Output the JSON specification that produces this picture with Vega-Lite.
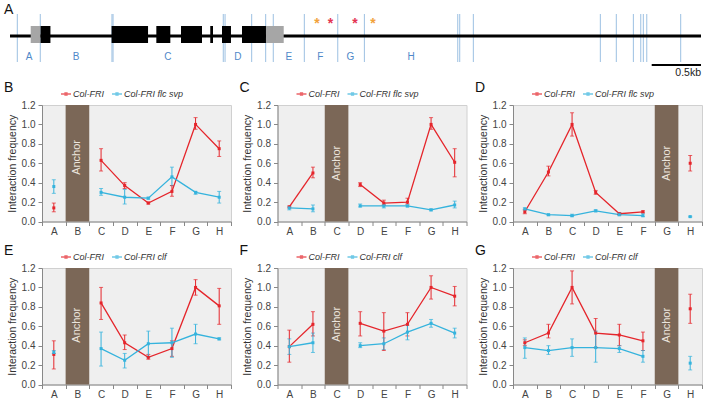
{
"$schema": "https://vega.github.io/schema/vega-lite/v6.json",
"padding": {"left": 3, "top": 0, "right": 0, "bottom": 0},
"config": {
 "font": "Liberation Sans",
 "view": {"fill": "#efefef", "stroke": "#d0d0d0", "strokeWidth": 1},
 "axis": {"gridColor": "#ffffff", "gridWidth": 1, "gridOpacity": 1, "domainColor": "#888888", "tickColor": "#888888", "labelColor": "#444444", "labelFontSize": 10, "titleFontSize": 10.5, "titleFontWeight": "normal", "titleColor": "#333333", "tickSize": 4},
 "axisX": {"tickBand": "extent", "labelAngle": 0, "labelPadding": 1},
 "axisY": {"titlePadding": 4, "labelPadding": 3, "tickCount": 6},
 "legend": {"orient": "none", "legendX": 18, "legendY": -17, "direction": "horizontal", "labelFontStyle": "italic", "labelFontSize": 9, "labelColor": "#333333", "columnPadding": 5, "labelOffset": 1, "symbolSize": 100, "symbolStrokeWidth": 1.3, "symbolType": "M-1,0H1M-0.2,-0.2H0.2V0.2H-0.2Z"},
 "title": {"fontSize": 14, "fontWeight": "normal", "anchor": "start", "frame": "group", "color": "#111111"}
},
"datasets": {
 "pts": [
  {"p":"B","s":"Col-FRI","g":1,"x":"A","v":0.14,"lo":0.10,"hi":0.19},
  {"p":"B","s":"Col-FRI","g":2,"x":"C","v":0.63,"lo":0.52,"hi":0.75},
  {"p":"B","s":"Col-FRI","g":2,"x":"D","v":0.37,"lo":0.34,"hi":0.40},
  {"p":"B","s":"Col-FRI","g":2,"x":"E","v":0.19,"lo":0.18,"hi":0.20},
  {"p":"B","s":"Col-FRI","g":2,"x":"F","v":0.31,"lo":0.26,"hi":0.37},
  {"p":"B","s":"Col-FRI","g":2,"x":"G","v":1.00,"lo":0.95,"hi":1.07},
  {"p":"B","s":"Col-FRI","g":2,"x":"H","v":0.75,"lo":0.67,"hi":0.83},
  {"p":"B","s":"Col-FRI flc svp","g":1,"x":"A","v":0.36,"lo":0.29,"hi":0.43},
  {"p":"B","s":"Col-FRI flc svp","g":2,"x":"C","v":0.30,"lo":0.27,"hi":0.34},
  {"p":"B","s":"Col-FRI flc svp","g":2,"x":"D","v":0.25,"lo":0.18,"hi":0.33},
  {"p":"B","s":"Col-FRI flc svp","g":2,"x":"E","v":0.24,"lo":0.23,"hi":0.25},
  {"p":"B","s":"Col-FRI flc svp","g":2,"x":"F","v":0.46,"lo":0.37,"hi":0.56},
  {"p":"B","s":"Col-FRI flc svp","g":2,"x":"G","v":0.30,"lo":0.28,"hi":0.31},
  {"p":"B","s":"Col-FRI flc svp","g":2,"x":"H","v":0.25,"lo":0.19,"hi":0.31},

  {"p":"C","s":"Col-FRI","g":1,"x":"A","v":0.15,"lo":0.14,"hi":0.16},
  {"p":"C","s":"Col-FRI","g":1,"x":"B","v":0.50,"lo":0.45,"hi":0.56},
  {"p":"C","s":"Col-FRI","g":2,"x":"D","v":0.38,"lo":0.36,"hi":0.40},
  {"p":"C","s":"Col-FRI","g":2,"x":"E","v":0.19,"lo":0.17,"hi":0.22},
  {"p":"C","s":"Col-FRI","g":2,"x":"F","v":0.20,"lo":0.18,"hi":0.24},
  {"p":"C","s":"Col-FRI","g":2,"x":"G","v":1.00,"lo":0.95,"hi":1.07},
  {"p":"C","s":"Col-FRI","g":2,"x":"H","v":0.61,"lo":0.46,"hi":0.75},
  {"p":"C","s":"Col-FRI flc svp","g":1,"x":"A","v":0.14,"lo":0.12,"hi":0.15},
  {"p":"C","s":"Col-FRI flc svp","g":1,"x":"B","v":0.13,"lo":0.10,"hi":0.17},
  {"p":"C","s":"Col-FRI flc svp","g":2,"x":"D","v":0.16,"lo":0.15,"hi":0.18},
  {"p":"C","s":"Col-FRI flc svp","g":2,"x":"E","v":0.16,"lo":0.14,"hi":0.17},
  {"p":"C","s":"Col-FRI flc svp","g":2,"x":"F","v":0.16,"lo":0.15,"hi":0.17},
  {"p":"C","s":"Col-FRI flc svp","g":2,"x":"G","v":0.12,"lo":0.11,"hi":0.13},
  {"p":"C","s":"Col-FRI flc svp","g":2,"x":"H","v":0.17,"lo":0.14,"hi":0.21},

  {"p":"D","s":"Col-FRI","g":1,"x":"A","v":0.10,"lo":0.08,"hi":0.12},
  {"p":"D","s":"Col-FRI","g":1,"x":"B","v":0.51,"lo":0.47,"hi":0.57},
  {"p":"D","s":"Col-FRI","g":1,"x":"C","v":1.00,"lo":0.88,"hi":1.12},
  {"p":"D","s":"Col-FRI","g":1,"x":"D","v":0.30,"lo":0.28,"hi":0.32},
  {"p":"D","s":"Col-FRI","g":1,"x":"E","v":0.08,"lo":0.07,"hi":0.09},
  {"p":"D","s":"Col-FRI","g":1,"x":"F","v":0.10,"lo":0.09,"hi":0.11},
  {"p":"D","s":"Col-FRI","g":2,"x":"H","v":0.60,"lo":0.52,"hi":0.68},
  {"p":"D","s":"Col-FRI flc svp","g":1,"x":"A","v":0.13,"lo":0.12,"hi":0.14},
  {"p":"D","s":"Col-FRI flc svp","g":1,"x":"B","v":0.07,"lo":0.06,"hi":0.075},
  {"p":"D","s":"Col-FRI flc svp","g":1,"x":"C","v":0.06,"lo":0.05,"hi":0.075},
  {"p":"D","s":"Col-FRI flc svp","g":1,"x":"D","v":0.11,"lo":0.10,"hi":0.12},
  {"p":"D","s":"Col-FRI flc svp","g":1,"x":"E","v":0.07,"lo":0.06,"hi":0.09},
  {"p":"D","s":"Col-FRI flc svp","g":1,"x":"F","v":0.06,"lo":0.05,"hi":0.08},
  {"p":"D","s":"Col-FRI flc svp","g":2,"x":"H","v":0.05,"lo":0.045,"hi":0.055},

  {"p":"E","s":"Col-FRI","g":1,"x":"A","v":0.31,"lo":0.16,"hi":0.45},
  {"p":"E","s":"Col-FRI","g":2,"x":"C","v":0.84,"lo":0.67,"hi":1.00},
  {"p":"E","s":"Col-FRI","g":2,"x":"D","v":0.43,"lo":0.36,"hi":0.51},
  {"p":"E","s":"Col-FRI","g":2,"x":"E","v":0.28,"lo":0.26,"hi":0.31},
  {"p":"E","s":"Col-FRI","g":2,"x":"F","v":0.37,"lo":0.29,"hi":0.45},
  {"p":"E","s":"Col-FRI","g":2,"x":"G","v":1.00,"lo":0.92,"hi":1.08},
  {"p":"E","s":"Col-FRI","g":2,"x":"H","v":0.81,"lo":0.62,"hi":0.99},
  {"p":"E","s":"Col-FRI clf","g":1,"x":"A","v":0.33,"lo":0.32,"hi":0.35},
  {"p":"E","s":"Col-FRI clf","g":2,"x":"C","v":0.37,"lo":0.19,"hi":0.54},
  {"p":"E","s":"Col-FRI clf","g":2,"x":"D","v":0.25,"lo":0.17,"hi":0.32},
  {"p":"E","s":"Col-FRI clf","g":2,"x":"E","v":0.42,"lo":0.28,"hi":0.55},
  {"p":"E","s":"Col-FRI clf","g":2,"x":"F","v":0.43,"lo":0.28,"hi":0.58},
  {"p":"E","s":"Col-FRI clf","g":2,"x":"G","v":0.52,"lo":0.42,"hi":0.62},
  {"p":"E","s":"Col-FRI clf","g":2,"x":"H","v":0.47,"lo":0.46,"hi":0.48},

  {"p":"F","s":"Col-FRI","g":1,"x":"A","v":0.39,"lo":0.23,"hi":0.56},
  {"p":"F","s":"Col-FRI","g":1,"x":"B","v":0.62,"lo":0.50,"hi":0.75},
  {"p":"F","s":"Col-FRI","g":2,"x":"D","v":0.63,"lo":0.50,"hi":0.75},
  {"p":"F","s":"Col-FRI","g":2,"x":"E","v":0.55,"lo":0.35,"hi":0.74},
  {"p":"F","s":"Col-FRI","g":2,"x":"F","v":0.62,"lo":0.50,"hi":0.74},
  {"p":"F","s":"Col-FRI","g":2,"x":"G","v":1.00,"lo":0.88,"hi":1.12},
  {"p":"F","s":"Col-FRI","g":2,"x":"H","v":0.91,"lo":0.81,"hi":1.01},
  {"p":"F","s":"Col-FRI clf","g":1,"x":"A","v":0.39,"lo":0.31,"hi":0.47},
  {"p":"F","s":"Col-FRI clf","g":1,"x":"B","v":0.43,"lo":0.33,"hi":0.53},
  {"p":"F","s":"Col-FRI clf","g":2,"x":"D","v":0.40,"lo":0.38,"hi":0.43},
  {"p":"F","s":"Col-FRI clf","g":2,"x":"E","v":0.42,"lo":0.36,"hi":0.48},
  {"p":"F","s":"Col-FRI clf","g":2,"x":"F","v":0.54,"lo":0.46,"hi":0.61},
  {"p":"F","s":"Col-FRI clf","g":2,"x":"G","v":0.63,"lo":0.59,"hi":0.67},
  {"p":"F","s":"Col-FRI clf","g":2,"x":"H","v":0.53,"lo":0.48,"hi":0.58},

  {"p":"G","s":"Col-FRI","g":1,"x":"A","v":0.43,"lo":0.40,"hi":0.46},
  {"p":"G","s":"Col-FRI","g":1,"x":"B","v":0.53,"lo":0.48,"hi":0.62},
  {"p":"G","s":"Col-FRI","g":1,"x":"C","v":1.00,"lo":0.83,"hi":1.17},
  {"p":"G","s":"Col-FRI","g":1,"x":"D","v":0.53,"lo":0.38,"hi":0.68},
  {"p":"G","s":"Col-FRI","g":1,"x":"E","v":0.51,"lo":0.40,"hi":0.62},
  {"p":"G","s":"Col-FRI","g":1,"x":"F","v":0.45,"lo":0.35,"hi":0.54},
  {"p":"G","s":"Col-FRI","g":2,"x":"H","v":0.78,"lo":0.63,"hi":0.93},
  {"p":"G","s":"Col-FRI clf","g":1,"x":"A","v":0.38,"lo":0.27,"hi":0.48},
  {"p":"G","s":"Col-FRI clf","g":1,"x":"B","v":0.35,"lo":0.31,"hi":0.40},
  {"p":"G","s":"Col-FRI clf","g":1,"x":"C","v":0.38,"lo":0.29,"hi":0.47},
  {"p":"G","s":"Col-FRI clf","g":1,"x":"D","v":0.38,"lo":0.23,"hi":0.55},
  {"p":"G","s":"Col-FRI clf","g":1,"x":"E","v":0.37,"lo":0.33,"hi":0.40},
  {"p":"G","s":"Col-FRI clf","g":1,"x":"F","v":0.29,"lo":0.23,"hi":0.35},
  {"p":"G","s":"Col-FRI clf","g":2,"x":"H","v":0.22,"lo":0.15,"hi":0.29}
 ],
 "anc": [
  {"p":"B","x":"B","label":"Anchor"},{"p":"C","x":"C","label":"Anchor"},{"p":"D","x":"G","label":"Anchor"},
  {"p":"E","x":"B","label":"Anchor"},{"p":"F","x":"C","label":"Anchor"},{"p":"G","x":"G","label":"Anchor"}
 ],
 "backbone": [{"a":0,"b":7.008}],
 "exons": [
  {"a":0.21,"b":0.31,"t":"utr"},{"a":0.31,"b":0.41,"t":"exon"},{"a":1.03,"b":1.40,"t":"exon"},
  {"a":1.484,"b":1.626,"t":"exon"},{"a":1.734,"b":1.947,"t":"exon"},{"a":2.031,"b":2.059,"t":"exon"},
  {"a":2.150,"b":2.241,"t":"exon"},{"a":2.353,"b":2.596,"t":"exon"},{"a":2.596,"b":2.776,"t":"utr"}
 ],
 "cuts": [
  {"x":0.074},{"x":0.307},{"x":1.034},{"x":1.045},{"x":2.163},{"x":2.181},{"x":2.451},{"x":2.593},
  {"x":2.670},{"x":2.985},{"x":3.324},{"x":3.594},{"x":4.541},{"x":4.561},{"x":4.699},{"x":5.987},
  {"x":6.149},{"x":6.322},{"x":6.397},{"x":6.423},{"x":6.458},{"x":6.802}
 ],
 "regions": [
  {"x":0.193,"r":"A"},{"x":0.669,"r":"B"},{"x":1.602,"r":"C"},{"x":2.312,"r":"D"},
  {"x":2.827,"r":"E"},{"x":3.147,"r":"F"},{"x":3.451,"r":"G"},{"x":4.067,"r":"H"}
 ],
 "stars": [
  {"x":3.114,"c":"o"},{"x":3.249,"c":"r"},{"x":3.499,"c":"r"},{"x":3.682,"c":"o"}
 ],
 "scalebar": [{"a":6.508,"b":7.008,"label":"0.5kb"}]
},
"vconcat": [
 {
  "width": 659, "height": 60.5,
  "view": {"fill": null, "stroke": null},
  "title": {"text": "A", "dx": -38, "dy": 21},
  "layer": [
   {"data": {"name": "cuts"}, "mark": {"type": "rule", "color": "#9cc0e2", "strokeWidth": 1},
    "encoding": {"x": {"field": "x", "type": "quantitative", "scale": {"domain": [0.3245, 7.008], "nice": false, "zero": false}, "axis": null},
                 "y": {"datum": 14, "type": "quantitative", "scale": {"domain": [0, 60.5], "reverse": true, "nice": false, "zero": false}, "axis": null},
                 "y2": {"datum": 62}}},
   {"data": {"name": "backbone"}, "mark": {"type": "rule", "color": "#000000", "strokeWidth": 3},
    "encoding": {"x": {"field": "a", "type": "quantitative"}, "x2": {"field": "b"}, "y": {"datum": 36, "type": "quantitative"}}},
   {"data": {"name": "exons"}, "mark": {"type": "rect"},
    "encoding": {"x": {"field": "a", "type": "quantitative"}, "x2": {"field": "b"},
                 "y": {"datum": 26, "type": "quantitative"}, "y2": {"datum": 43},
                 "color": {"field": "t", "type": "nominal", "scale": {"domain": ["exon", "utr"], "range": ["#000000", "#a6a6a6"]}, "legend": null}}},
   {"data": {"name": "regions"}, "mark": {"type": "text", "color": "#4f88c9", "fontSize": 10, "baseline": "middle"},
    "encoding": {"x": {"field": "x", "type": "quantitative"}, "y": {"datum": 57, "type": "quantitative"}, "text": {"field": "r"}}},
   {"data": {"name": "stars"}, "mark": {"type": "text", "fontSize": 14, "fontWeight": "bold", "baseline": "middle"},
    "encoding": {"x": {"field": "x", "type": "quantitative"}, "y": {"datum": 24, "type": "quantitative"}, "text": {"value": "*"},
                 "color": {"field": "c", "type": "nominal", "scale": {"domain": ["o", "r"], "range": ["#f2a23a", "#e43552"]}, "legend": null}}},
   {"data": {"name": "scalebar"}, "mark": {"type": "rule", "color": "#000000", "strokeWidth": 2},
    "encoding": {"x": {"field": "a", "type": "quantitative"}, "x2": {"field": "b"}, "y": {"datum": 65, "type": "quantitative"}}},
   {"data": {"name": "scalebar"}, "mark": {"type": "text", "fontSize": 10.5, "align": "right", "baseline": "middle", "color": "#222222"},
    "encoding": {"x": {"field": "b", "type": "quantitative"}, "y": {"datum": 73, "type": "quantitative"}, "text": {"field": "label"}}}
  ],
  "resolve": {"scale": {"color": "independent"}}
 },
 {
  "columns": 3,
  "spacing": {"row": 46, "column": 46.5},
  "bounds": "flush",
  "resolve": {"scale": {"color": "independent"}},
  "concat": [
   {
    "width": 189, "height": 116.5,
    "title": {"text": "B", "dx": -38, "dy": 11},
    "layer": [
     {"data": {"name": "anc"}, "transform": [{"filter": "datum.p == 'B'"}], "mark": {"type": "bar", "color": "#7b6757"},
      "encoding": {"x": {"field": "x", "type": "nominal", "title": null, "scale": {"domain": ["A","B","C","D","E","F","G","H"], "paddingInner": 0, "paddingOuter": 0}},
                   "y": {"datum": 0, "type": "quantitative", "title": "Interaction frequency", "scale": {"domain": [0, 1.2]}, "axis": {"format": ".1f"}}, "y2": {"datum": 1.2}}},
     {"data": {"name": "anc"}, "transform": [{"filter": "datum.p == 'B'"}], "mark": {"type": "text", "angle": 270, "color": "#ece5dd", "fontSize": 11, "baseline": "middle", "align": "center"},
      "encoding": {"x": {"field": "x", "type": "nominal", "title": null}, "y": {"datum": 0.66, "type": "quantitative", "title": "Interaction frequency"}, "text": {"field": "label"}}},
     {"data": {"name": "pts"}, "transform": [{"filter": "datum.p == 'B'"}], "mark": {"type": "line", "strokeWidth": 1.3},
      "encoding": {"x": {"field": "x", "type": "nominal", "title": null}, "y": {"field": "v", "type": "quantitative", "title": "Interaction frequency", "axis": {"format": ".1f"}},
                   "color": {"field": "s", "type": "nominal", "title": null, "scale": {"domain": ["Col-FRI", "Col-FRI flc svp"], "range": ["#e5252b", "#35b3dd"]}},
                   "detail": {"field": "g"}}},
     {"data": {"name": "pts"}, "transform": [{"filter": "datum.p == 'B'"}], "mark": {"type": "errorbar", "ticks": {"size": 4}, "thickness": 1},
      "encoding": {"x": {"field": "x", "type": "nominal", "title": null}, "y": {"field": "lo", "type": "quantitative", "title": "Interaction frequency"}, "y2": {"field": "hi"},
                   "color": {"field": "s", "type": "nominal", "title": null}}},
     {"data": {"name": "pts"}, "transform": [{"filter": "datum.p == 'B'"}], "mark": {"type": "square", "size": 9, "opacity": 1, "filled": true},
      "encoding": {"x": {"field": "x", "type": "nominal", "title": null}, "y": {"field": "v", "type": "quantitative", "title": "Interaction frequency"},
                   "color": {"field": "s", "type": "nominal", "title": null}}}
    ]
   },
   {
    "width": 189, "height": 116.5,
    "title": {"text": "C", "dx": -38, "dy": 11},
    "layer": [
     {"data": {"name": "anc"}, "transform": [{"filter": "datum.p == 'C'"}], "mark": {"type": "bar", "color": "#7b6757"},
      "encoding": {"x": {"field": "x", "type": "nominal", "title": null, "scale": {"domain": ["A","B","C","D","E","F","G","H"], "paddingInner": 0, "paddingOuter": 0}},
                   "y": {"datum": 0, "type": "quantitative", "title": "Interaction frequency", "scale": {"domain": [0, 1.2]}, "axis": {"format": ".1f"}}, "y2": {"datum": 1.2}}},
     {"data": {"name": "anc"}, "transform": [{"filter": "datum.p == 'C'"}], "mark": {"type": "text", "angle": 270, "color": "#ece5dd", "fontSize": 11, "baseline": "middle", "align": "center"},
      "encoding": {"x": {"field": "x", "type": "nominal", "title": null}, "y": {"datum": 0.6, "type": "quantitative", "title": "Interaction frequency"}, "text": {"field": "label"}}},
     {"data": {"name": "pts"}, "transform": [{"filter": "datum.p == 'C'"}], "mark": {"type": "line", "strokeWidth": 1.3},
      "encoding": {"x": {"field": "x", "type": "nominal", "title": null}, "y": {"field": "v", "type": "quantitative", "title": "Interaction frequency", "axis": {"format": ".1f"}},
                   "color": {"field": "s", "type": "nominal", "title": null, "scale": {"domain": ["Col-FRI", "Col-FRI flc svp"], "range": ["#e5252b", "#35b3dd"]}},
                   "detail": {"field": "g"}}},
     {"data": {"name": "pts"}, "transform": [{"filter": "datum.p == 'C'"}], "mark": {"type": "errorbar", "ticks": {"size": 4}, "thickness": 1},
      "encoding": {"x": {"field": "x", "type": "nominal", "title": null}, "y": {"field": "lo", "type": "quantitative", "title": "Interaction frequency"}, "y2": {"field": "hi"},
                   "color": {"field": "s", "type": "nominal", "title": null}}},
     {"data": {"name": "pts"}, "transform": [{"filter": "datum.p == 'C'"}], "mark": {"type": "square", "size": 9, "opacity": 1, "filled": true},
      "encoding": {"x": {"field": "x", "type": "nominal", "title": null}, "y": {"field": "v", "type": "quantitative", "title": "Interaction frequency"},
                   "color": {"field": "s", "type": "nominal", "title": null}}}
    ]
   },
   {
    "width": 189, "height": 116.5,
    "title": {"text": "D", "dx": -38, "dy": 11},
    "layer": [
     {"data": {"name": "anc"}, "transform": [{"filter": "datum.p == 'D'"}], "mark": {"type": "bar", "color": "#7b6757"},
      "encoding": {"x": {"field": "x", "type": "nominal", "title": null, "scale": {"domain": ["A","B","C","D","E","F","G","H"], "paddingInner": 0, "paddingOuter": 0}},
                   "y": {"datum": 0, "type": "quantitative", "title": "Interaction frequency", "scale": {"domain": [0, 1.2]}, "axis": {"format": ".1f"}}, "y2": {"datum": 1.2}}},
     {"data": {"name": "anc"}, "transform": [{"filter": "datum.p == 'D'"}], "mark": {"type": "text", "angle": 270, "color": "#ece5dd", "fontSize": 11, "baseline": "middle", "align": "center"},
      "encoding": {"x": {"field": "x", "type": "nominal", "title": null}, "y": {"datum": 0.6, "type": "quantitative", "title": "Interaction frequency"}, "text": {"field": "label"}}},
     {"data": {"name": "pts"}, "transform": [{"filter": "datum.p == 'D'"}], "mark": {"type": "line", "strokeWidth": 1.3},
      "encoding": {"x": {"field": "x", "type": "nominal", "title": null}, "y": {"field": "v", "type": "quantitative", "title": "Interaction frequency", "axis": {"format": ".1f"}},
                   "color": {"field": "s", "type": "nominal", "title": null, "scale": {"domain": ["Col-FRI", "Col-FRI flc svp"], "range": ["#e5252b", "#35b3dd"]}},
                   "detail": {"field": "g"}}},
     {"data": {"name": "pts"}, "transform": [{"filter": "datum.p == 'D'"}], "mark": {"type": "errorbar", "ticks": {"size": 4}, "thickness": 1},
      "encoding": {"x": {"field": "x", "type": "nominal", "title": null}, "y": {"field": "lo", "type": "quantitative", "title": "Interaction frequency"}, "y2": {"field": "hi"},
                   "color": {"field": "s", "type": "nominal", "title": null}}},
     {"data": {"name": "pts"}, "transform": [{"filter": "datum.p == 'D'"}], "mark": {"type": "square", "size": 9, "opacity": 1, "filled": true},
      "encoding": {"x": {"field": "x", "type": "nominal", "title": null}, "y": {"field": "v", "type": "quantitative", "title": "Interaction frequency"},
                   "color": {"field": "s", "type": "nominal", "title": null}}}
    ]
   },
   {
    "width": 189, "height": 116.5,
    "title": {"text": "E", "dx": -38, "dy": 11},
    "layer": [
     {"data": {"name": "anc"}, "transform": [{"filter": "datum.p == 'E'"}], "mark": {"type": "bar", "color": "#7b6757"},
      "encoding": {"x": {"field": "x", "type": "nominal", "title": null, "scale": {"domain": ["A","B","C","D","E","F","G","H"], "paddingInner": 0, "paddingOuter": 0}},
                   "y": {"datum": 0, "type": "quantitative", "title": "Interaction frequency", "scale": {"domain": [0, 1.2]}, "axis": {"format": ".1f"}}, "y2": {"datum": 1.2}}},
     {"data": {"name": "anc"}, "transform": [{"filter": "datum.p == 'E'"}], "mark": {"type": "text", "angle": 270, "color": "#ece5dd", "fontSize": 11, "baseline": "middle", "align": "center"},
      "encoding": {"x": {"field": "x", "type": "nominal", "title": null}, "y": {"datum": 0.61, "type": "quantitative", "title": "Interaction frequency"}, "text": {"field": "label"}}},
     {"data": {"name": "pts"}, "transform": [{"filter": "datum.p == 'E'"}], "mark": {"type": "line", "strokeWidth": 1.3},
      "encoding": {"x": {"field": "x", "type": "nominal", "title": null}, "y": {"field": "v", "type": "quantitative", "title": "Interaction frequency", "axis": {"format": ".1f"}},
                   "color": {"field": "s", "type": "nominal", "title": null, "scale": {"domain": ["Col-FRI", "Col-FRI clf"], "range": ["#e5252b", "#35b3dd"]}},
                   "detail": {"field": "g"}}},
     {"data": {"name": "pts"}, "transform": [{"filter": "datum.p == 'E'"}], "mark": {"type": "errorbar", "ticks": {"size": 4}, "thickness": 1},
      "encoding": {"x": {"field": "x", "type": "nominal", "title": null}, "y": {"field": "lo", "type": "quantitative", "title": "Interaction frequency"}, "y2": {"field": "hi"},
                   "color": {"field": "s", "type": "nominal", "title": null}}},
     {"data": {"name": "pts"}, "transform": [{"filter": "datum.p == 'E'"}], "mark": {"type": "square", "size": 9, "opacity": 1, "filled": true},
      "encoding": {"x": {"field": "x", "type": "nominal", "title": null}, "y": {"field": "v", "type": "quantitative", "title": "Interaction frequency"},
                   "color": {"field": "s", "type": "nominal", "title": null}}}
    ]
   },
   {
    "width": 189, "height": 116.5,
    "title": {"text": "F", "dx": -38, "dy": 11},
    "layer": [
     {"data": {"name": "anc"}, "transform": [{"filter": "datum.p == 'F'"}], "mark": {"type": "bar", "color": "#7b6757"},
      "encoding": {"x": {"field": "x", "type": "nominal", "title": null, "scale": {"domain": ["A","B","C","D","E","F","G","H"], "paddingInner": 0, "paddingOuter": 0}},
                   "y": {"datum": 0, "type": "quantitative", "title": "Interaction frequency", "scale": {"domain": [0, 1.2]}, "axis": {"format": ".1f"}}, "y2": {"datum": 1.2}}},
     {"data": {"name": "anc"}, "transform": [{"filter": "datum.p == 'F'"}], "mark": {"type": "text", "angle": 270, "color": "#ece5dd", "fontSize": 11, "baseline": "middle", "align": "center"},
      "encoding": {"x": {"field": "x", "type": "nominal", "title": null}, "y": {"datum": 0.62, "type": "quantitative", "title": "Interaction frequency"}, "text": {"field": "label"}}},
     {"data": {"name": "pts"}, "transform": [{"filter": "datum.p == 'F'"}], "mark": {"type": "line", "strokeWidth": 1.3},
      "encoding": {"x": {"field": "x", "type": "nominal", "title": null}, "y": {"field": "v", "type": "quantitative", "title": "Interaction frequency", "axis": {"format": ".1f"}},
                   "color": {"field": "s", "type": "nominal", "title": null, "scale": {"domain": ["Col-FRI", "Col-FRI clf"], "range": ["#e5252b", "#35b3dd"]}},
                   "detail": {"field": "g"}}},
     {"data": {"name": "pts"}, "transform": [{"filter": "datum.p == 'F'"}], "mark": {"type": "errorbar", "ticks": {"size": 4}, "thickness": 1},
      "encoding": {"x": {"field": "x", "type": "nominal", "title": null}, "y": {"field": "lo", "type": "quantitative", "title": "Interaction frequency"}, "y2": {"field": "hi"},
                   "color": {"field": "s", "type": "nominal", "title": null}}},
     {"data": {"name": "pts"}, "transform": [{"filter": "datum.p == 'F'"}], "mark": {"type": "square", "size": 9, "opacity": 1, "filled": true},
      "encoding": {"x": {"field": "x", "type": "nominal", "title": null}, "y": {"field": "v", "type": "quantitative", "title": "Interaction frequency"},
                   "color": {"field": "s", "type": "nominal", "title": null}}}
    ]
   },
   {
    "width": 189, "height": 116.5,
    "title": {"text": "G", "dx": -38, "dy": 11},
    "layer": [
     {"data": {"name": "anc"}, "transform": [{"filter": "datum.p == 'G'"}], "mark": {"type": "bar", "color": "#7b6757"},
      "encoding": {"x": {"field": "x", "type": "nominal", "title": null, "scale": {"domain": ["A","B","C","D","E","F","G","H"], "paddingInner": 0, "paddingOuter": 0}},
                   "y": {"datum": 0, "type": "quantitative", "title": "Interaction frequency", "scale": {"domain": [0, 1.2]}, "axis": {"format": ".1f"}}, "y2": {"datum": 1.2}}},
     {"data": {"name": "anc"}, "transform": [{"filter": "datum.p == 'G'"}], "mark": {"type": "text", "angle": 270, "color": "#ece5dd", "fontSize": 11, "baseline": "middle", "align": "center"},
      "encoding": {"x": {"field": "x", "type": "nominal", "title": null}, "y": {"datum": 0.61, "type": "quantitative", "title": "Interaction frequency"}, "text": {"field": "label"}}},
     {"data": {"name": "pts"}, "transform": [{"filter": "datum.p == 'G'"}], "mark": {"type": "line", "strokeWidth": 1.3},
      "encoding": {"x": {"field": "x", "type": "nominal", "title": null}, "y": {"field": "v", "type": "quantitative", "title": "Interaction frequency", "axis": {"format": ".1f"}},
                   "color": {"field": "s", "type": "nominal", "title": null, "scale": {"domain": ["Col-FRI", "Col-FRI clf"], "range": ["#e5252b", "#35b3dd"]}},
                   "detail": {"field": "g"}}},
     {"data": {"name": "pts"}, "transform": [{"filter": "datum.p == 'G'"}], "mark": {"type": "errorbar", "ticks": {"size": 4}, "thickness": 1},
      "encoding": {"x": {"field": "x", "type": "nominal", "title": null}, "y": {"field": "lo", "type": "quantitative", "title": "Interaction frequency"}, "y2": {"field": "hi"},
                   "color": {"field": "s", "type": "nominal", "title": null}}},
     {"data": {"name": "pts"}, "transform": [{"filter": "datum.p == 'G'"}], "mark": {"type": "square", "size": 9, "opacity": 1, "filled": true},
      "encoding": {"x": {"field": "x", "type": "nominal", "title": null}, "y": {"field": "v", "type": "quantitative", "title": "Interaction frequency"},
                   "color": {"field": "s", "type": "nominal", "title": null}}}
    ]
   }
  ]
 }
],
"spacing": 1, "bounds": "full",
"resolve": {"scale": {"color": "independent"}}
}
